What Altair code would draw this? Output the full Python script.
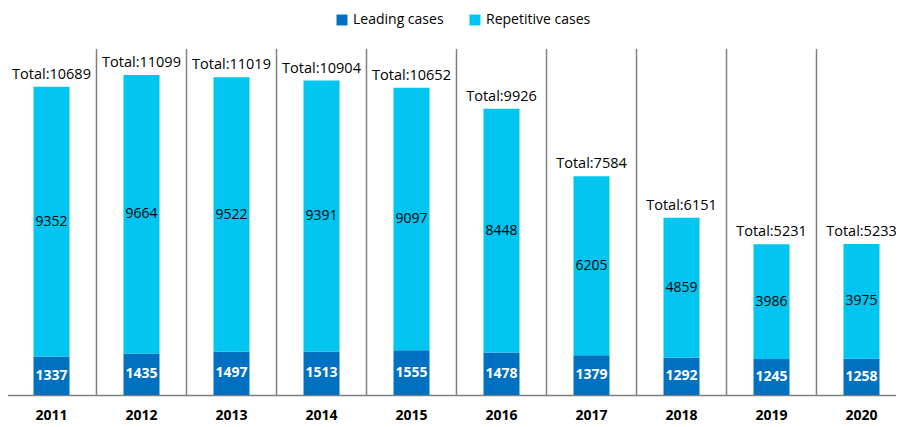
import altair as alt
import pandas as pd

years = ["2011", "2012", "2013", "2014", "2015", "2016", "2017", "2018", "2019", "2020"]
leading = [1337, 1435, 1497, 1513, 1555, 1478, 1379, 1292, 1245, 1258]
repetitive = [9352, 9664, 9522, 9391, 9097, 8448, 6205, 4859, 3986, 3975]
totals = [10689, 11099, 11019, 10904, 10652, 9926, 7584, 6151, 5231, 5233]
series = ["Leading cases", "Repetitive cases"]
colors = ["#0070C0", "#00C5F0"]

rows = []
for i, y in enumerate(years):
    rows.append({"year": y, "type": series[0], "value": leading[i], "ord": 0})
    rows.append({"year": y, "type": series[1], "value": repetitive[i], "ord": 1})
df = pd.DataFrame(rows)
tot = pd.DataFrame({"year": years, "total": totals})

FONT = "Open Sans"
xscale = alt.Scale(paddingInner=0.6, paddingOuter=0.3)
yscale = alt.Scale(domain=[0, 12000])

base = alt.Chart(df)

bars = base.mark_bar().encode(
    x=alt.X("year:O", scale=xscale, sort=years,
            axis=alt.Axis(title=None, labelAngle=0, ticks=False, labelFontWeight="bold",
                          labelFontSize=14, labelFont=FONT, labelColor="#000000",
                          labelAlign="center", bandPosition=0.5,
                          labelPadding=20, domainColor="#7f7f7f", domainWidth=1.5)),
    y=alt.Y("value:Q", stack="zero", scale=yscale, axis=None),
    color=alt.Color("type:N", scale=alt.Scale(domain=series, range=colors),
                    legend=alt.Legend(title=None, orient="none", legendX=328.5, legendY=-36,
                                      direction="horizontal",
                                      symbolType="square", symbolSize=120, symbolStrokeWidth=0,
                                      labelFontSize=14, labelFont=FONT, labelColor="#000000",
                                      columnPadding=24, labelOffset=4)),
    order=alt.Order("ord:Q"),
)

stacked = base.transform_stack(
    stack="value", groupby=["year"], as_=["v0", "v1"], sort=[alt.SortField("ord")]
).transform_calculate(mid="(datum.v0 + datum.v1) / 2")

lead_txt = stacked.transform_filter(alt.datum.ord == 0).mark_text(
    color="white", fontWeight="bold", fontSize=14, font=FONT, baseline="middle"
).encode(x=alt.X("year:O", scale=xscale, sort=years), y=alt.Y("mid:Q", scale=yscale), text="value:Q")

rep_txt = stacked.transform_filter(alt.datum.ord == 1).mark_text(
    color="black", fontSize=14, font=FONT, baseline="middle"
).encode(x=alt.X("year:O", scale=xscale, sort=years), y=alt.Y("mid:Q", scale=yscale), text="value:Q")

tot_txt = alt.Chart(tot).transform_calculate(label="'Total:' + datum.total").mark_text(
    color="black", fontSize=14.5, font=FONT, baseline="bottom", dy=-5
).encode(x=alt.X("year:O", scale=xscale, sort=years), y=alt.Y("total:Q", scale=yscale), text="label:N")

seps = alt.Chart(tot).mark_rule(color="#7f7f7f", strokeWidth=1.5, xOffset=-45).encode(
    x=alt.X("year:O", scale=xscale, sort=years), y=alt.value(0), y2=alt.value(346)
)

chart = alt.layer(seps, bars, lead_txt, rep_txt, tot_txt).properties(
    width=900, height=346,
    autosize=alt.AutoSizeParams(type="none"),
    padding={"left": -1.5, "right": -10.5, "top": 41, "bottom": 30},
).configure_view(stroke=None)

chart.save("out.html", embed_options={"renderer": "svg", "actions": False})
